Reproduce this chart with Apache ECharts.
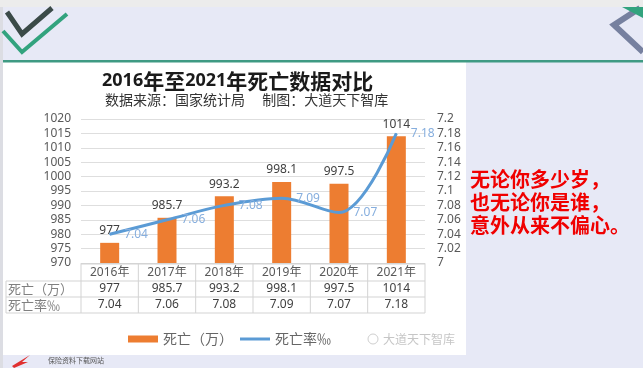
<!DOCTYPE html>
<html><head><meta charset="utf-8">
<script src="https://cdn.jsdelivr.net/npm/echarts@6/dist/echarts.min.js"></script>
<style>html,body{margin:0;padding:0;background:#e7e9f6}#c{width:643px;height:368px}</style>
</head><body><div id="c"></div>
<script>
const categories = ['2016年', '2017年', '2018年', '2019年', '2020年', '2021年'];
const deaths = [977, 985.7, 993.2, 998.1, 997.5, 1014];
const deathRates = [7.04, 7.06, 7.08, 7.09, 7.07, 7.18];
const seriesNames = ['死亡（万）', '死亡率‰'];
const rowLabels = ['死亡（万）', '死亡率‰'];
const titleText = '2016年至2021年死亡数据对比';
const subTitleText = '数据来源：国家统计局　 制图：大道天下智库';
const sideLines = ['无论你多少岁，', '也无论你是谁，', '意外从来不偏心。'];

const FONT = '"Noto Sans", "Noto Sans CJK SC", sans-serif';
const CJK = '"Noto Sans CJK SC", sans-serif';
const richTitle = titleText.split(/(\d+)/).filter(Boolean)
  .map(s => /\d/.test(s) ? '{n|' + s + '}' : '{c|' + s + '}').join('');

const chart = echarts.init(document.getElementById('c'), null, {renderer: 'canvas'});

const bgGraphics = [
  {type: 'rect', z: -100, shape: {x: 0, y: 0, width: 643, height: 368}, style: {fill: '#e7e9f6'}},
  {type: 'rect', z: -99, shape: {x: 0, y: 0, width: 643, height: 7}, style: {fill: '#ececec'}},
  {type: 'rect', z: -99, shape: {x: 0, y: 7, width: 3, height: 361}, style: {fill: '#dcdde3'}},
  {type: 'rect', z: -98, shape: {x: 3, y: 62, width: 463, height: 293}, style: {fill: '#ffffff'}},
  {type: 'rect', z: -97, shape: {x: 3, y: 60, width: 640, height: 2.5}, style: {fill: '#3f9a83'}},
  {type: 'polyline', z: -96, shape: {points: [[7, 12], [22, 34], [52, 8]]}, style: {stroke: '#3b4a48', lineWidth: 5, fill: null}},
  {type: 'polyline', z: -96, shape: {points: [[3, 31], [22, 52], [67, 14]]}, style: {stroke: '#32a37e', lineWidth: 4, fill: null}},
  {type: 'polyline', z: -96, shape: {points: [[640, 8], [614, 25], [643, 52]]}, style: {stroke: '#76809f', lineWidth: 6, fill: null}},
  {type: 'polygon', z: -96, shape: {points: [[622, 7], [643, 7], [643, 18]]}, style: {fill: '#32a37e'}},
  {type: 'polygon', z: -96, shape: {points: [[12, 366], [30, 355], [22, 362], [28, 362], [14, 368]]}, style: {fill: '#e03030'}},
  {type: 'text', z: -96, style: {x: 48, y: 360, text: '保险资料下载网站', font: '7px ' + CJK, fill: '#555', textVerticalAlign: 'middle'}},
  {type: 'circle', z: -96, shape: {cx: 373, cy: 339, r: 5}, style: {stroke: '#cfcfcf', lineWidth: 1, fill: null}},
  {type: 'text', z: -96, style: {x: 383, y: 339, text: '大道天下智库', font: '12px ' + CJK, fill: '#c6c6c6', textVerticalAlign: 'middle'}},
  {type: 'text', z: 10, style: {x: 470, y: 168, text: sideLines.join('\n'), font: 'bold 20px ' + CJK, lineHeight: 23, fill: '#f00000'}}
];

chart.setOption({
  animation: false,
  backgroundColor: 'transparent',
  title: [
    {text: richTitle, left: 97, top: 64, textStyle: {rich: {
      n: {fontFamily: FONT, fontWeight: 'bold', fontSize: 18, color: '#1a1a1a', lineHeight: 24},
      c: {fontFamily: CJK, fontWeight: 'bold', fontSize: 21, color: '#1a1a1a', lineHeight: 24}
    }}},
    {text: subTitleText, left: 100, top: 88, textStyle: {fontFamily: CJK, fontWeight: 'normal', fontSize: 14, color: '#333'}}
  ],
  legend: {
    left: 123, top: 327, itemWidth: 30, itemHeight: 7, itemGap: 7,
    data: [
      {name: seriesNames[0], icon: 'rect'},
      {name: seriesNames[1], icon: 'path://M0,0h30v3h-30z'}
    ],
    textStyle: {fontFamily: CJK, fontSize: 14, color: '#666'}
  },
  grid: {left: 81, right: 218, top: 119, bottom: 105},
  xAxis: {
    type: 'category', data: categories,
    axisLine: {show: true, lineStyle: {color: '#d5d5d5'}},
    axisTick: {show: false}, axisLabel: {show: false}
  },
  yAxis: [
    {type: 'value', min: 970, max: 1020, interval: 5,
      axisLine: {show: false}, axisTick: {show: false},
      axisLabel: {margin: 10, color: '#595959', fontSize: 12, fontFamily: FONT, formatter: v => String(v)},
      splitLine: {lineStyle: {color: '#dedede'}}},
    {type: 'value', min: 7, max: 7.2, interval: 0.02,
      axisLine: {show: false}, axisTick: {show: false},
      axisLabel: {margin: 12, color: '#595959', fontSize: 12, fontFamily: FONT, formatter: v => String(+v.toFixed(2))},
      splitLine: {show: false}}
  ],
  series: [
    {name: seriesNames[0], type: 'bar', data: deaths, barWidth: 19,
      itemStyle: {color: '#ed7d31'},
      label: {show: true, position: 'top', distance: 6, color: '#404040', fontSize: 12, fontFamily: FONT}},
    {name: seriesNames[1], type: 'line', yAxisIndex: 1, data: deathRates, smooth: 0.35,
      symbol: 'circle', symbolSize: 1, showSymbol: true, z: 5,
      lineStyle: {color: '#5b9bd5', width: 3}, itemStyle: {color: '#5b9bd5'},
      label: {show: true, position: 'right', distance: 14, color: '#86aede', fontSize: 12, fontFamily: FONT}}
  ],
  graphic: bgGraphics
});

const centers = categories.map(c => chart.convertToPixel({xAxisIndex: 0}, c));
const colW = centers.length > 1 ? centers[1] - centers[0] : 57;
const leftX = centers[0] - colW / 2;
const rightX = centers[centers.length - 1] + colW / 2;
const rowY = [264, 281, 297, 313];
const tableLeft = 6;
const lineColor = '#d3d3d3';
const tbl = [];
function hline(x1, x2, y) { tbl.push({type: 'line', z: 3, shape: {x1, y1: y, x2, y2: y}, style: {stroke: lineColor, lineWidth: 1}}); }
function vline(x, y1, y2) { tbl.push({type: 'line', z: 3, shape: {x1: x, y1, x2: x, y2}, style: {stroke: lineColor, lineWidth: 1}}); }
function txt(x, y, t, color, font) { tbl.push({type: 'text', z: 3, style: {x, y, text: t, fill: color, font, textAlign: 'center', textVerticalAlign: 'middle'}}); }

hline(leftX, rightX, rowY[0]);
for (let r = 1; r < rowY.length; r++) hline(tableLeft, rightX, rowY[r]);
vline(tableLeft, rowY[1], rowY[3]);
for (let i = 0; i <= centers.length; i++) vline(leftX + i * colW, rowY[0], rowY[3]);
const rows = [deaths, deathRates];
categories.forEach((c, i) => {
  txt(centers[i], (rowY[0] + rowY[1]) / 2, c, '#595959', '12px ' + FONT);
  rows.forEach((arr, r) => txt(centers[i], (rowY[r + 1] + rowY[r + 2]) / 2, String(arr[i]), '#404040', '12px ' + FONT));
});
rowLabels.forEach((l, r) => {
  tbl.push({type: 'text', z: 3, style: {x: 8, y: (rowY[r + 1] + rowY[r + 2]) / 2, text: l, fill: '#808080', font: '13px ' + CJK, textVerticalAlign: 'middle'}});
});
chart.setOption({graphic: bgGraphics.concat(tbl)});
</script></body></html>
